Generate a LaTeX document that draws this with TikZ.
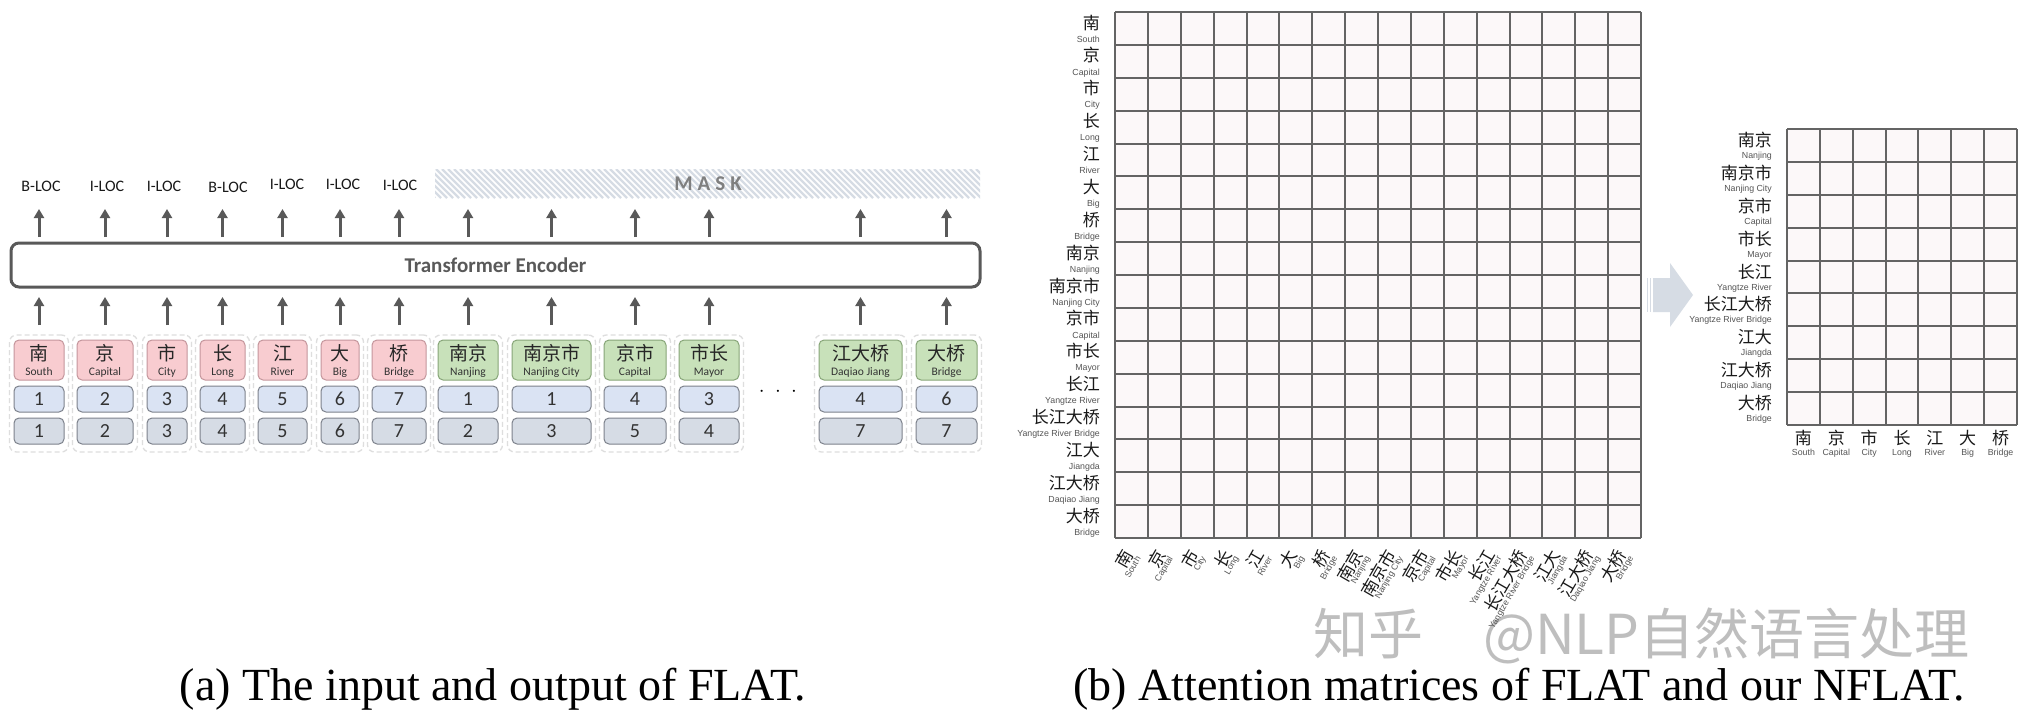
\documentclass[tikz,border=0pt]{standalone}
\usepackage{fontspec}
\setmainfont{Liberation Serif}
\newfontfamily\calfont{Carlito}
\newfontfamily\cjkfont{Noto Sans CJK SC}
\newfontfamily\arialfont{Liberation Sans}
\usetikzlibrary{arrows.meta,calc}
\definecolor{pinkfill}{RGB}{248,204,208}
\definecolor{pinkline}{RGB}{196,150,156}
\definecolor{greenfill}{RGB}{200,225,186}
\definecolor{greenline}{RGB}{135,165,120}
\definecolor{bluefill}{RGB}{218,227,243}
\definecolor{bluefillb}{RGB}{214,220,229}
\definecolor{boxline}{RGB}{125,130,140}
\definecolor{dashline}{RGB}{222,222,222}
\definecolor{arrgray}{RGB}{89,89,89}
\definecolor{maskgray}{RGB}{127,127,127}
\definecolor{hatchcol}{RGB}{214,220,228}
\definecolor{cellfill}{RGB}{252,248,249}
\definecolor{gridcol}{RGB}{100,100,100}
\definecolor{labgray}{RGB}{85,85,85}
\definecolor{arrowfill}{RGB}{214,220,228}
\definecolor{wmcol}{RGB}{190,190,190}
\tikzset{
  arr/.style={draw=arrgray, line width=3pt, -{Triangle[length=9pt,width=10pt]}},
  tokbox/.style={draw, rounded corners=5pt, line width=1pt, inner sep=0pt, outer sep=0pt},
  outerbox/.style={draw=dashline, dashed, dash pattern=on 5pt off 3pt, line width=1.3pt, rounded corners=7pt, inner sep=0pt, outer sep=0pt},
  tokzh/.style={font=\cjkfont\fontsize{19}{19}\selectfont, text=black!85, inner sep=0pt, anchor=base},
  token/.style={font=\calfont\fontsize{11.5}{11.5}\selectfont, text=black!80, inner sep=0pt, anchor=base},
  numtxt/.style={font=\calfont\fontsize{20}{20}\selectfont, text=black!80},
  outlab/.style={font=\calfont\fontsize{16}{16}\selectfont, text=black!90, inner sep=0pt, anchor=base},
  zhlab/.style={font=\cjkfont\fontsize{17}{17}\selectfont, text=black!90, inner sep=0pt},
  enlab/.style={font=\arialfont\fontsize{8.8}{8.8}\selectfont, text=labgray, inner sep=0pt},
  gridline/.style={draw=gridcol, line width=1.4pt},
  caption/.style={font=\fontsize{46}{46}\selectfont, anchor=base, inner sep=0pt}
}
\begin{document}
\begin{tikzpicture}[x=1pt,y=-1pt]
\useasboundingbox (0,0) rectangle (2022,715);
\fill[white] (0,0) rectangle (2022,715);

% ---------------- watermark ----------------
\node[font=\cjkfont\fontsize{55}{55}\selectfont, text=wmcol, anchor=base west, inner sep=0pt] (wm) at (1313,654) {知乎\hspace{60pt}@NLP自然语言处理};

% ---------------- (a) left panel ----------------
% mask band
\node[minimum width=545pt, minimum height=29pt, inner sep=0pt, outer sep=0pt] (mask) at (707.5,183.5) {};
\begin{scope}
  \clip (mask.north west) rectangle (mask.south east);
  \foreach \k in {0,...,96} \draw[hatchcol, line width=2.2pt] ({400+\k*6},169) -- ++(29,29);
\end{scope}
\node[font=\calfont\bfseries\fontsize{21}{21}\selectfont, text=maskgray, inner sep=0pt] (masktxt) at (708,184) {M\hspace{5pt}A\hspace{5pt}S\hspace{5pt}K};

% encoder
\node[draw=arrgray, line width=3pt, rounded corners=8pt, minimum width=969pt, minimum height=44pt, inner sep=0pt, outer sep=0pt, font=\calfont\bfseries\fontsize{21}{21}\selectfont, text=arrgray] (enc) at (495.5,265) {Transformer Encoder};

% output labels
\foreach \lx/\ly/\lt [count=\j] in {41/191/B-LOC,107/191/I-LOC,164/191/I-LOC,228/192/B-LOC,287/189/I-LOC,343/189/I-LOC,400/190/I-LOC}
  \node[outlab] (out\j) at (\lx,\ly) {\lt};

% token columns
\foreach \xl/\xr/\zh/\en/\na/\nb/\fc/\lc [count=\i] in {
  14/64/南/South/1/1/pinkfill/pinkline,
  77/133/京/Capital/2/2/pinkfill/pinkline,
  147/187/市/City/3/3/pinkfill/pinkline,
  200/245/长/Long/4/4/pinkfill/pinkline,
  258/307/江/River/5/5/pinkfill/pinkline,
  321/359/大/Big/6/6/pinkfill/pinkline,
  372/426/桥/Bridge/7/7/pinkfill/pinkline,
  438/498/南京/Nanjing/1/2/greenfill/greenline,
  512/591/南京市/Nanjing City/1/3/greenfill/greenline,
  604/666/京市/Capital/4/5/greenfill/greenline,
  679/739/市长/Mayor/3/4/greenfill/greenline,
  819/902/江大桥/Daqiao Jiang/4/7/greenfill/greenline,
  916/977/大桥/Bridge/6/7/greenfill/greenline}
{
  \pgfmathsetmacro\xc{(\xl+\xr)/2}
  \pgfmathsetmacro\w{\xr-\xl}
  \node[outerbox, minimum width=\w+9, minimum height=117pt] (col\i) at (\xc,393.5) {};
  \node[tokbox, draw=\lc, fill=\fc, minimum width=\w, minimum height=40pt] (tok\i) at (\xc,360) {};
  \node[tokzh] (tokzh\i) at (\xc,360) {\zh};
  \node[token] (token\i) at (\xc,375.5) {\en};
  \node[tokbox, draw=boxline, fill=bluefill, minimum width=\w, minimum height=26pt, numtxt] (pa\i) at (\xc,399) {\na};
  \node[tokbox, draw=boxline, fill=bluefillb, minimum width=\w, minimum height=26pt, numtxt] (pb\i) at (\xc,431) {\nb};
  \coordinate (up\i) at (\xc,209);
  \draw[arr] ($(col\i.north)+(0,-10)$) -- ($(enc.south -| col\i.north)+(0,10)$);
  \draw[arr] ($(enc.north -| col\i.north)+(0,-6)$) -- (up\i);
}
\node[font=\fontsize{20}{20}\selectfont, inner sep=0pt] (dots) at (778,392) {$\cdot\;\cdot\;\cdot$};

% ---------------- (b) right panel ----------------
% big matrix
\fill[cellfill] (1115,12) rectangle (1641,538);
\foreach \k in {0,...,16} {
  \draw[gridline] ({round(1115+\k*32.875)},12) -- ({round(1115+\k*32.875)},538);
  \draw[gridline] (1115,{round(12+\k*32.875)}) -- (1641,{round(12+\k*32.875)});
}
\foreach \zh/\en [count=\i] in {南/South,京/Capital,市/City,长/Long,江/River,大/Big,桥/Bridge,南京/Nanjing,南京市/Nanjing City,京市/Capital,市长/Mayor,长江/Yangtze River,长江大桥/Yangtze River Bridge,江大/Jiangda,江大桥/Daqiao Jiang,大桥/Bridge}
{
  \pgfmathsetmacro\yt{12+(\i-1)*32.875}
  \pgfmathsetmacro\xc{1115+(\i-0.5)*32.875}
  \node[zhlab, anchor=base east] (rz\i) at (1100,\yt+17) {\zh};
  \node[enlab, anchor=base east] (re\i) at (1100,\yt+30.2) {\en};
  \node[zhlab, anchor=east, rotate=60] (cz\i) at (\xc-3,551) {\zh};
  \node[enlab, anchor=east, rotate=60] (ce\i) at (\xc+7,557) {\en};
}

% block arrow
\fill[arrowfill] (1653,278) -- (1670,278) -- (1670,263) -- (1693,295) -- (1670,327) -- (1670,312) -- (1653,312) -- cycle;
\fill[arrowfill] (1646.5,278) rectangle (1648,312);
\fill[arrowfill] (1649.5,278) rectangle (1651.2,312);

% small matrix
\fill[cellfill] (1787,129) rectangle (2017,425);
\foreach \k in {0,...,7}
  \draw[gridline] ({round(1787+\k*32.857)},129) -- ({round(1787+\k*32.857)},425);
\foreach \k in {0,...,9}
  \draw[gridline] (1787,{round(129+\k*32.889)}) -- (2017,{round(129+\k*32.889)});
\foreach \zh/\en [count=\i] in {南京/Nanjing,南京市/Nanjing City,京市/Capital,市长/Mayor,长江/Yangtze River,长江大桥/Yangtze River Bridge,江大/Jiangda,江大桥/Daqiao Jiang,大桥/Bridge}
{
  \pgfmathsetmacro\yt{129+(\i-1)*32.889}
  \node[zhlab, anchor=base east] (sz\i) at (1772,\yt+17.5) {\zh};
  \node[enlab, anchor=base east] (se\i) at (1772,\yt+29.5) {\en};
}
\foreach \zh/\en [count=\i] in {南/South,京/Capital,市/City,长/Long,江/River,大/Big,桥/Bridge}
{
  \pgfmathsetmacro\xc{1787+(\i-0.5)*32.857}
  \node[zhlab, anchor=base] (tz\i) at (\xc,444.5) {\zh};
  \node[enlab, anchor=base] (te\i) at (\xc,455) {\en};
}

% ---------------- captions ----------------
\node[caption] (capa) at (493,700) {(a) The input and output of FLAT.};
\node[caption] (capb) at (1519,700) {(b) Attention matrices of FLAT and our NFLAT.};
\end{tikzpicture}
\end{document}
